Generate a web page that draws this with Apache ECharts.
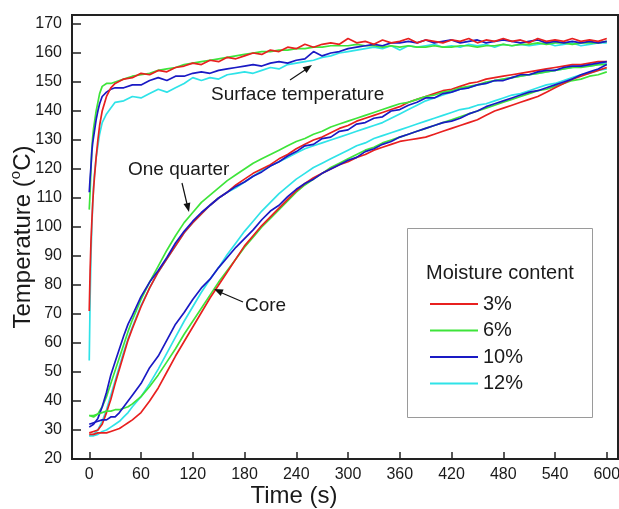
<!DOCTYPE html>
<html><head><meta charset="utf-8">
<script src="https://cdn.jsdelivr.net/npm/echarts@6/dist/echarts.min.js"></script>
<style>html,body{margin:0;padding:0;background:#fff}#c{width:619px;height:509px}</style>
</head><body><div id="c"></div>
<script>
var moisture = ['3%', '6%', '10%', '12%'];
var xTicks = [0, 60, 120, 180, 240, 300, 360, 420, 480, 540, 600];
var yTicks = [20, 30, 40, 50, 60, 70, 80, 90, 100, 110, 120, 130, 140, 150, 160, 170];

var tSurface = [0,1,2,3,4,5,6,8,10,12,15,20,25,30,40,50,60,70,80,90,100,110,120,130,140,150,160,170,180,190,200,210,220,230,240,250,260,270,280,290,300,310,320,330,340,350,360,370,380,390,400,410,420,430,440,450,460,470,480,490,500,510,520,530,540,550,560,570,580,590,600];
var tInner = [0,5,10,15,20,25,30,35,40,45,50,60,70,80,90,100,110,120,130,140,150,160,170,180,190,200,210,220,230,240,250,260,270,280,290,300,310,320,330,340,350,360,370,380,390,400,410,420,430,440,450,460,470,480,490,500,510,520,530,540,550,560,570,580,590,600];

var surface3 = [71,85,95,102,108,113,117,124,130,135,140,145,148,149.5,
151,151.5,153,152.5,154,153.5,155,155.5,156.5,156,157.5,157,158.5,158,159,160,159.5,161,160.5,162,161.5,163,162,163,163.5,163,165,163.5,164,163,164.5,163.5,164,165,163.5,164.5,164,163.5,164.5,164,165,163.5,164.5,164,165,164,164.5,163.5,165,164,164.5,164,165,164,164.5,164,165];
var surface6 = [106,112,120,127,131,134,136,140,143,146,148.5,149.5,149.5,150,
151,152,152.5,153,154,154.5,155,156,156.5,157,157.5,158,158.5,159,159.5,160,160.5,160.5,161,161,161.5,161.5,162,162,162.5,162.5,162.5,163,162.5,162.5,162,162.5,162,162.5,162,162,162.5,162,162,162.5,162.5,162,162.5,162.5,163,162.5,163,163,163.5,163,163.5,163.5,163,163.5,163.5,163.5,164];
var surface10 = [112,117,121,126,129,131,133,137,140,142.5,145,146.5,147.5,148,
148,149,149,150.5,151.5,150.5,152,152,153,153.5,153,154,154.5,155,155.5,156,155.5,156.5,157,156.5,157.5,158,160.5,159,160,160.5,161.5,162,162.5,163,162.5,163.5,163.5,164,163.5,164.5,163.5,164,164.5,163.5,164,164.5,163.5,164,164.5,164,163.5,164,164.5,163.5,164,163.5,164,163.5,164,163.5,164];
var surface12 = [54,75,90,100,108,114,118,124,128,132,136,139,141,143,
143.5,145,144.5,146,147.5,146.5,148,149.5,151.5,150.5,151.5,151,152.5,153,153.5,153,154,155,154.5,156,156.5,157,157.5,158.5,159,160,160.5,161,161.5,162,161.5,162.5,161,162.5,162,162.5,163,162,162.5,162,163,162.5,163,162,163,162.5,163,162.5,163,163.5,162.5,163,163.5,162.5,163,163.5,163.5];

var quarter3 = [29,29.5,30,32,36,40.5,46,51,56,61,65,
72.5,79,84.5,89,93.5,98,101.5,104.5,107.5,110,112,114.5,116.5,118.5,120,121.5,123.5,125,127,128.5,130,131,132.5,134,135,136.5,137.5,138.5,139.5,140.5,141.5,143,144,145,146,147,147.5,148.5,149.5,150,151,151.5,152,152.5,153,153.5,154,154.5,155,155.5,156,156,156.5,157,157];
var quarter6 = [35,34.5,35.5,38,41.5,46,50.5,55,59.5,64,68,
75,81,86.5,92,97,101.5,105,108.5,111,113.5,116,118,120,122,123.5,125,126.5,128,129.5,130.5,132,133,134.5,135.5,136.5,137.5,138.5,139.5,140.5,141.5,142.5,143,144,145,145.5,146.5,147,148,148.5,149,150,150.5,151,151.5,152,152.5,153,153.5,154,154.5,155,155,155.5,156,156];
var quarter10 = [31,32,34,38,43,49,53.5,58,62.5,66.5,69.5,
76,81,85,89.5,94.5,98.5,102,105,107.5,110,112,114,115.5,117.5,119,121,122.5,124.5,126,128,128.5,130.5,131,133,133.5,135.5,136,137.5,138,140,140.5,142,143,144.5,144.5,146,146.5,147.5,148,149,149.5,150.5,150.5,151.5,152.5,152.5,153.5,154,154,155,155.5,155.5,156,156.5,157];
var quarter12 = [28,28.5,30,33,37,42,47,52,57,61.5,65.5,
73,79,84.5,89,93.5,98,101.5,104.5,107.5,110,112,113.5,115.5,117.5,119.5,121,122.5,124,125.5,127,128,129,130,131,132,133,134,135,136,137.5,139,140.5,142,143.5,144.5,145.5,146.5,147.5,148,149,149.5,150.5,151,151.5,152,152.5,153,153.5,154,154.5,155,155.5,155.5,156,156.5];

var core3 = [28.5,28.5,29,29,29,29.5,30,30.5,31.5,32.5,33.5,
36,40,44.5,50,55.5,60.5,65.5,70.5,75.5,80,84.5,89,93.5,97,100.5,103.5,106.5,109.5,112.5,115,117,118.5,120,121.5,122.5,124,125,126.5,127.5,128.5,129.5,130,130.5,131,132,133,134,135,136,137,138.5,140,141,142,143,144,145,146.5,148,149.5,151,152,153,154,155];
var core6 = [35,35,35.5,36,36.5,36.5,37,37,37.5,38,39,
41.5,45,49,53.5,58,63,67.5,72,76.5,81,85,89,93,96.5,100,103,106,109,112,114.5,116.5,118.5,120.5,122,123.5,125,126.5,127.5,129,130,131,132,133,134,135,136,137,138,139,140,141,142,143,144,145,146,147,147.5,148.5,149.5,150.5,151,152,152.5,153.5];
var core10 = [32,32.5,33,33.5,33.5,34.5,34.5,36,38,40,42,
46,51.5,55.5,61,66.5,70.5,75,79,82,86,89.5,93,96,99,102.5,105.5,107.5,110.5,113,115,116.5,118.5,120,121.5,123,124,126,127,128.5,129.5,131,132,133,134,135,136,136.5,137.5,139,140,141.5,142.5,143.5,144.5,145.5,146.5,147,148,149,150,151,152.5,153.5,154.5,156];
var core12 = [28,28,28.5,29.5,30,31,32,33,34.5,36,38,
41.5,46,51,56.5,62,67.5,72.5,77.5,82,86,90.5,94.5,98.5,102,105.5,108.5,111.5,114,116.5,118.5,120.5,122,123.5,125,126.5,128,129,130.5,131.5,132.5,133.5,134.5,135.5,136.5,137.5,138.5,139.5,140.5,141,142,142.5,143.5,144.5,145.5,146,147,148,149,149.5,150.5,151.5,152.5,153,154,154.5];

var colors = {'3%': '#e8201f', '6%': '#3ee43a', '10%': '#1a1ac4', '12%': '#2fe3e8'};

function pairs(ts, vs) { return ts.map(function (t, i) { return [t, vs[i]]; }); }
function mk(name, ts, vs) {
  return {
    type: 'line', name: name, data: pairs(ts, vs), showSymbol: false, symbol: 'none',
    lineStyle: {color: colors[name], width: 1.7}, itemStyle: {color: colors[name]},
    animation: false, silent: true
  };
}

var series = [
  mk('12%', tSurface, surface12), mk('6%', tSurface, surface6), mk('10%', tSurface, surface10), mk('3%', tSurface, surface3),
  mk('12%', tInner, quarter12), mk('3%', tInner, quarter3), mk('6%', tInner, quarter6), mk('10%', tInner, quarter10),
  mk('12%', tInner, core12), mk('6%', tInner, core6), mk('3%', tInner, core3), mk('10%', tInner, core10)
];

var FONT = '"Liberation Sans", Arial, sans-serif';
var TXT = '#1a1a1a';

var chart = echarts.init(document.getElementById('c'), null, {renderer: 'canvas'});
chart.setOption({
  backgroundColor: '#ffffff',
  animation: false,
  textStyle: {fontFamily: FONT},
  grid: {left: 72, right: 1, top: 15, bottom: 50, show: true, borderColor: '#222', borderWidth: 2, backgroundColor: 'transparent', containLabel: false, outerBoundsMode: 'none'},
  xAxis: {
    type: 'value', min: -20, max: 613,
    name: 'Time (s)', nameLocation: 'middle', nameGap: 25, nameMoveOverlap: false,
    nameTextStyle: {fontSize: 24, color: TXT, fontFamily: FONT, padding: [0, 102, 0, 0]},
    axisLine: {show: true, onZero: false, lineStyle: {color: '#222', width: 2}},
    axisTick: {show: true, inside: true, length: 7, customValues: xTicks, lineStyle: {color: '#222', width: 1.5}},
    axisLabel: {customValues: xTicks, fontSize: 16, color: TXT, margin: 8, fontFamily: FONT},
    splitLine: {show: false}
  },
  yAxis: {
    type: 'value', min: 20, max: 173.1,
    name: '{a|Temperature (}{s|o}{a|C)}', nameLocation: 'middle', nameGap: 37, nameRotate: 90, nameMoveOverlap: false,
    nameTextStyle: {color: TXT, fontFamily: FONT, rich: {
      a: {fontSize: 24, color: TXT, fontFamily: FONT, lineHeight: 27, verticalAlign: 'bottom'},
      s: {fontSize: 15, color: TXT, fontFamily: FONT, lineHeight: 27, verticalAlign: 'top', padding: [0, 0, 10, 0]}
    }},
    axisLine: {show: true, onZero: false, lineStyle: {color: '#222', width: 2}},
    axisTick: {show: true, inside: true, length: 9, customValues: yTicks, lineStyle: {color: '#222', width: 1.5}},
    axisLabel: {customValues: yTicks, fontSize: 16, color: TXT, margin: 10, fontFamily: FONT},
    splitLine: {show: false}
  },
  legend: {
    data: moisture, orient: 'vertical', left: 425, top: 289, itemGap: 6.5,
    itemWidth: 48, itemHeight: 2, icon: 'rect', z: 10,
    textStyle: {fontSize: 20, color: TXT, fontFamily: FONT, lineHeight: 20},
    selectedMode: false
  },
  graphic: [
    {type: 'rect', z: 5, shape: {x: 407.5, y: 228.5, width: 185, height: 189}, style: {fill: '#fff', stroke: '#9a9a9a', lineWidth: 1}},
    {type: 'text', z: 11, x: 426, y: 273, style: {text: 'Moisture content', font: '20px ' + FONT, fill: TXT, textAlign: 'left', textVerticalAlign: 'middle'}},
    {type: 'text', z: 11, x: 211, y: 95, style: {text: 'Surface temperature', font: '19px ' + FONT, fill: TXT, textAlign: 'left', textVerticalAlign: 'middle'}},
    {type: 'text', z: 11, x: 128, y: 170, style: {text: 'One quarter', font: '19px ' + FONT, fill: TXT, textAlign: 'left', textVerticalAlign: 'middle'}},
    {type: 'text', z: 11, x: 245, y: 306, style: {text: 'Core', font: '19px ' + FONT, fill: TXT, textAlign: 'left', textVerticalAlign: 'middle'}},
    {type: 'line', z: 11, shape: {x1: 290, y1: 80, x2: 305, y2: 70}, style: {stroke: '#111', lineWidth: 1.2}},
    {type: 'polygon', z: 11, shape: {points: [[312, 65], [306.5, 73], [302.6, 67.2]]}, style: {fill: '#111'}},
    {type: 'line', z: 11, shape: {x1: 182, y1: 183, x2: 187, y2: 204}, style: {stroke: '#111', lineWidth: 1.2}},
    {type: 'polygon', z: 11, shape: {points: [[189, 212], [190.3, 202.4], [183.5, 204.0]]}, style: {fill: '#111'}},
    {type: 'line', z: 11, shape: {x1: 243, y1: 302, x2: 222, y2: 293}, style: {stroke: '#111', lineWidth: 1.2}},
    {type: 'polygon', z: 11, shape: {points: [[214, 289], [223.6, 289.5], [220.8, 295.9]]}, style: {fill: '#111'}}
  ],
  series: series
});
</script>
</body></html>
